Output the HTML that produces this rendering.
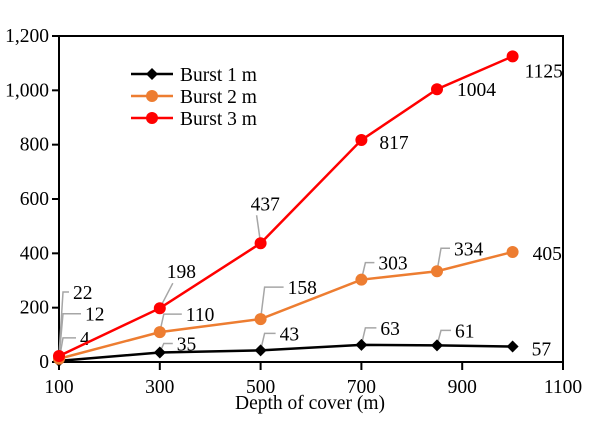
<!DOCTYPE html>
<html><head><meta charset="utf-8"><style>
body{margin:0;background:#fff}
text{font-family:"Liberation Serif",serif;fill:#000}
</style></head><body>
<svg id="c" width="602" height="422" xmlns="http://www.w3.org/2000/svg"></svg>
<script>
const xCats=[100,300,500,700,850,1000];
const burst1=[4,35,43,63,61,57];
const burst2=[12,110,158,303,334,405];
const burst3=[22,198,437,817,1004,1125];
const xTicks=[100,300,500,700,900,1100];
const yTicks=[0,200,400,600,800,1000,1200];
const yTickLabels=["0","200","400","600","800","1,000","1,200"];
// label layout offsets (dx,dy from point, leader type)
const off1=[[21,-23,1],[17,-9,1],[19,-17,1],[19,-17,1],[18,-15,1],[19,2,0]];
const off2=[[26,-45,1],[26,-18,1],[27,-32,1],[17,-17,1],[17,-23,1],[20,1,0]];
const off3=[[14,-64,1],[7,-37,2],[-10,-40,2],[18,2,0],[20,0,0],[12,14,0]];
const FS=19.5;
const L=59,R=563,T=36,B=362;
const X=v=>L+(v-100)/1000*(R-L);
const Y=v=>B-v/1200*(B-T);
const svg=document.getElementById('c');
const NS='http://www.w3.org/2000/svg';
function mk(t,a,p){const e=document.createElementNS(NS,t);for(const k in a)e.setAttribute(k,a[k]);(p||svg).appendChild(e);return e;}
let fr=mk('rect',{x:L,y:T,width:R-L,height:B-T,fill:'none',stroke:'#000','stroke-width':2});


yTicks.forEach((v,i)=>{
  let t=mk('line',{x1:L-7,x2:L,y1:Y(v),y2:Y(v),stroke:'#000','stroke-width':2});
  
  
  let l=mk('text',{x:L-10,y:Y(v)+6,'text-anchor':'end','font-size':FS});
  l.textContent=yTickLabels[i];
  
  
});
xTicks.forEach(v=>{
  let t=mk('line',{x1:X(v),x2:X(v),y1:B,y2:B+8,stroke:'#000','stroke-width':2});
  
  
  let l=mk('text',{x:X(v),y:B+31,'text-anchor':'middle','font-size':FS});
  l.textContent=v;
  
  
});
let xt=mk('text',{x:310,y:409,'text-anchor':'middle','font-size':FS});
xt.textContent='Depth of cover (m)';


const series=[
 {name:'burst-1',vals:burst1,off:off1,color:'#000',marker:'diamond'},
 {name:'burst-2',vals:burst2,off:off2,color:'#ED7D31',marker:'circle'},
 {name:'burst-3',vals:burst3,off:off3,color:'#FF0000',marker:'circle'}];
series.forEach(s=>{
  let g=mk('g',{});
  
  
  let p=mk('polyline',{points:s.vals.map((v,i)=>X(xCats[i])+','+Y(v)).join(' '),fill:'none',stroke:s.color,'stroke-width':2.5},g);
  
  
  s.vals.forEach((v,i)=>{
    const cx=X(xCats[i]),cy=Y(v);
    const [dx,dy,ld]=s.off[i];
    const tx=cx+dx,ty=cy+dy;
    if(ld===1){
      let ln=mk('polyline',{points:`${cx},${cy} ${cx+4},${ty} ${tx-4},${ty}`,fill:'none',stroke:'#a6a6a6','stroke-width':1.5},g);
      
      
    } else if(ld===2){
      let ln=mk('polyline',{points:`${cx},${cy} ${tx+6},${ty+12}`,fill:'none',stroke:'#a6a6a6','stroke-width':1.5},g);
      
      
    }
    let m;
    if(s.marker==='diamond') m=mk('polygon',{points:`${cx},${cy-6} ${cx+6},${cy} ${cx},${cy+6} ${cx-6},${cy}`,fill:s.color},g);
    else m=mk('circle',{cx:cx,cy:cy,r:6,fill:s.color},g);
    
    
    let t=mk('text',{x:tx,y:ty+7,'font-size':FS},g);
    t.textContent=v;
    
    
  });
});
const lg=mk('g',{});


series.forEach((s,i)=>{
  const y=74+i*22;
  let e=mk('g',{},lg);
  
  
  mk('line',{x1:131,x2:173,y1:y,y2:y,stroke:s.color,'stroke-width':2.5},e);
  if(s.marker==='diamond') mk('polygon',{points:`152,${y-6} 158,${y} 152,${y+6} 146,${y}`,fill:s.color},e);
  else mk('circle',{cx:152,cy:y,r:6,fill:s.color},e);
  let t=mk('text',{x:180,y:y+7,'font-size':FS},e);
  t.textContent='Burst '+(i+1)+' m';
});
</script>
</body></html>
